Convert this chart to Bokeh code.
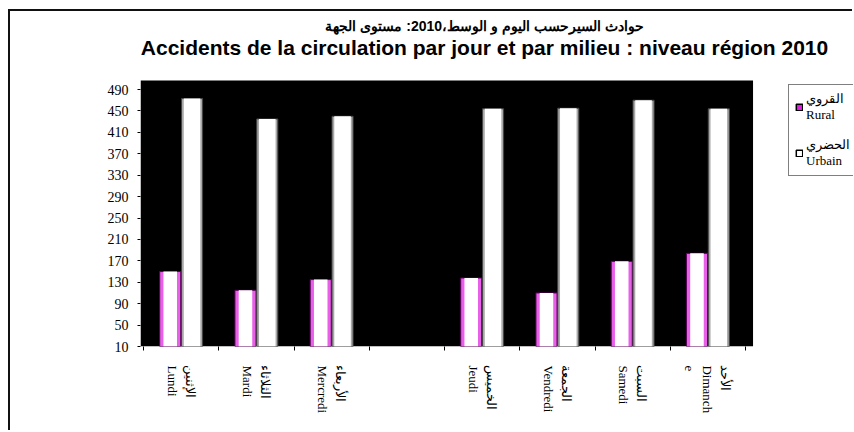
import math
from bokeh.plotting import figure
from bokeh.models import (Range1d, FixedTicker, Legend, LegendItem, Label,
                          BoxAnnotation, ColumnDataSource)
from bokeh.transform import dodge
from bokeh.embed import file_html
from bokeh.resources import INLINE

# ---- data ----
days_ar = ["الإثنين", "الثلاثاء", "الأربعاء", "", "الخميس", "الجمعة", "السبت", "الأحد"]
days_fr = ["Lundi", "Mardi", "Mercredi", "", "Jeudi", "Vendredi", "Samedi", "Dimanch\ne"]
rural = [150, 115, 135, float("nan"), 138, 110, 169, 184]
urbain = [473, 435, 440, float("nan"), 454, 455, 470, 454]
y_ticks = list(range(10, 491, 40))
y_min, y_top = 10, 507          # value-axis extent (black plot area)
title_ar = "حوادث السيرحسب اليوم و الوسط،2010: مستوى الجهة"
title_fr = "Accidents de la circulation par jour et par milieu : niveau région 2010"
legend_rural = "القروي\nRural"
legend_urbain = "الحضري\nUrbain"

xs = list(range(len(days_fr)))
src = ColumnDataSource(dict(x=xs, rural=rural, urbain=urbain))

x_lo, x_black_hi, x_hi = -0.54, 7.6, 8.935
y_hi = 635.7

p = figure(width=844, height=421, output_backend="svg", toolbar_location=None,
           x_range=Range1d(x_lo, x_hi), y_range=Range1d(y_min, y_hi),
           min_border_left=130, min_border_right=1, min_border_top=0, min_border_bottom=86)
p.styles = {"margin-left": "8px", "margin-top": "9px",
            "border-left": "2px solid #111", "border-top": "2px solid #111"}
p.background_fill_color = "white"
p.border_fill_color = "white"
p.outline_line_color = None
p.xgrid.visible = False
p.ygrid.visible = False

# black plot area
p.add_layout(BoxAnnotation(left=x_lo, right=x_black_hi, bottom=y_min, top=y_top,
                           fill_color="black", fill_alpha=1.0, line_color=None,
                           level="underlay"))

bw = 0.28
p.vbar(x=dodge("x", -0.145, range=p.x_range), top="rural", bottom=y_min, width=bw,
       source=src, fill_color="#e860e8", line_color="#5a005a", line_width=1)
p.vbar(x=dodge("x", -0.145, range=p.x_range), top="rural", bottom=y_min, width=0.18,
       source=src, fill_color="white", line_color=None)
p.vbar(x=dodge("x", 0.145, range=p.x_range), top="urbain", bottom=y_min, width=bw,
       source=src, fill_color="#a8a8a8", line_color="#444444", line_width=1)
p.vbar(x=dodge("x", 0.145, range=p.x_range), top="urbain", bottom=y_min, width=0.22,
       source=src, fill_color="white", line_color=None)

# legend swatches (renderers hidden, only used for legend glyphs)
r_leg = p.vbar(x="x", top="rural", bottom=y_min, width=0.1, source=src,
               fill_color="#e020e0", line_color="black", line_width=1.5, visible=False)
u_leg = p.vbar(x="x", top="urbain", bottom=y_min, width=0.1, source=src,
               fill_color="white", line_color="black", line_width=1.5, visible=False)
legend = Legend(items=[LegendItem(label=legend_rural, renderers=[r_leg]),
                       LegendItem(label=legend_urbain, renderers=[u_leg])],
                location=(648, 170), glyph_width=8, glyph_height=8, label_standoff=3,
                label_text_font="Liberation Serif", label_text_font_size="13px",
                label_text_color="black",
                padding=6, spacing=14, border_line_color="black", border_line_width=1.5,
                background_fill_color="white", background_fill_alpha=1.0, margin=0)
p.add_layout(legend, "center")

xa = p.xaxis[0]
xa.ticker = FixedTicker(ticks=xs, minor_ticks=[i - 0.5 for i in xs] + [xs[-1] + 0.5])
xa.major_label_overrides = {i: ((a + "\n" + f) if f else "") for i, (a, f) in enumerate(zip(days_ar, days_fr))}
xa.major_label_orientation = -math.pi / 2
xa.major_tick_line_color = None
xa.major_tick_out = 0
xa.major_tick_in = 0
xa.minor_tick_line_color = "black"
xa.minor_tick_out = 4
xa.minor_tick_in = 0
xa.axis_line_color = None
xa.major_label_standoff = 15
xa.major_label_text_font = "Liberation Serif"
xa.major_label_text_font_size = "13px"
xa.major_label_text_color = "black"

ya = p.yaxis[0]
ya.ticker = FixedTicker(ticks=y_ticks)
ya.axis_line_color = None
ya.major_tick_out = 3
ya.major_tick_in = 0
ya.minor_tick_line_color = None
ya.major_label_standoff = 9
ya.major_label_text_font = "Liberation Serif"
ya.major_label_text_font_size = "14px"
ya.major_label_text_color = "black"

# titles
p.add_layout(Label(x=344, y=321, x_units="screen", y_units="screen", text=title_ar,
                   text_align="center", text_baseline="middle", text_font="Liberation Sans",
                   text_font_style="bold", text_font_size="14px", text_color="black"))
p.add_layout(Label(x=344, y=299, x_units="screen", y_units="screen", text=title_fr,
                   text_align="center", text_baseline="middle", text_font="Liberation Sans",
                   text_font_style="bold", text_font_size="21px", text_color="black"))

open("out.html", "w").write(file_html(p, INLINE))
